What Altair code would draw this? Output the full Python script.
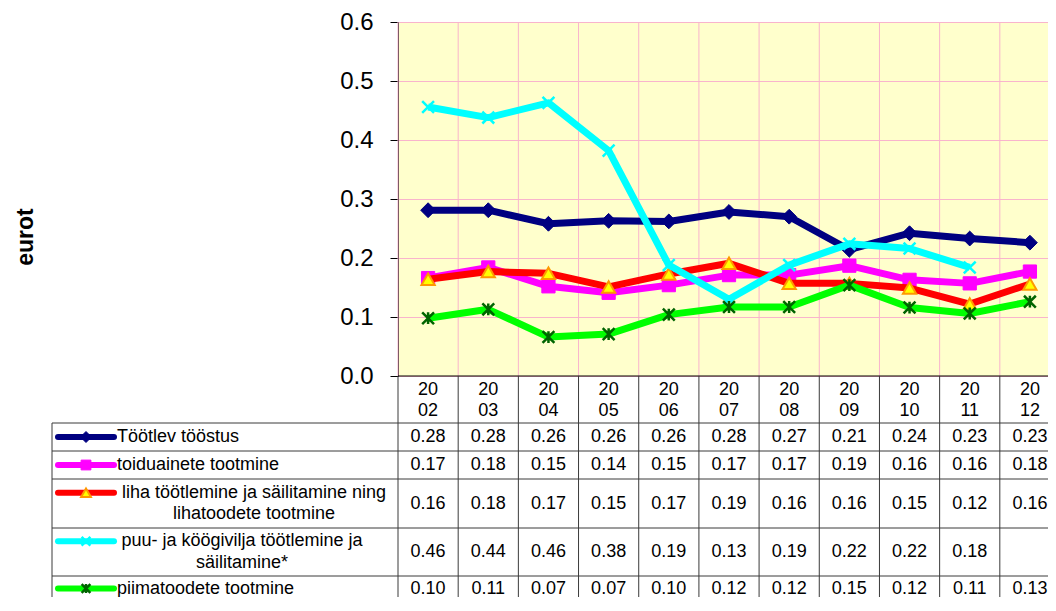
import altair as alt
import pandas as pd

# ---------------- data ----------------
years = ["2002", "2003", "2004", "2005", "2006", "2007", "2008", "2009", "2010", "2011", "2012"]
year_labels = ["20\n02", "20\n03", "20\n04", "20\n05", "20\n06", "20\n07",
               "20\n08", "20\n09", "20\n10", "20\n11", "20\n12"]

series_names = [
    "Töötlev tööstus",
    "toiduainete tootmine",
    "liha töötlemine ja säilitamine ning\nlihatoodete tootmine",
    "puu- ja köögivilja töötlemine ja\nsäilitamine*",
    "piimatoodete tootmine",
]

tootlev = [0.281, 0.281, 0.258, 0.263, 0.262, 0.278, 0.270, 0.214, 0.242, 0.233, 0.226]
toiduained = [0.166, 0.184, 0.152, 0.141, 0.154, 0.171, 0.171, 0.187, 0.163, 0.157, 0.177]
liha = [0.164, 0.177, 0.174, 0.151, 0.173, 0.191, 0.157, 0.157, 0.149, 0.122, 0.156]
puuvili = [0.456, 0.438, 0.463, 0.382, 0.188, 0.130, 0.188, 0.224, 0.216, 0.184, None]
piim = [0.098, 0.113, 0.066, 0.071, 0.104, 0.117, 0.117, 0.154, 0.116, 0.106, 0.126]

series_values = [tootlev, toiduained, liha, puuvili, piim]
y_ticks = [0.0, 0.1, 0.2, 0.3, 0.4, 0.5, 0.6]

# ---------------- styles / layout ----------------
FONT = "Liberation Sans, Arial, sans-serif"
PINK = "#F9B4CC"
PLOT_BG = "#FFFFCC"
TABLE_LINE = "#3a3a3a"
W, H = 650, 354          # visible plot area (right part is cut by the page edge)
X_RANGE = 662            # full extent of the 11 year columns

COLORS = ["#000080", "#FF00FF", "#FF0000", "#00FFFF", "#00FF00"]
X_PATH = "M-1,-1L1,1M-1,1L1,-1"
STAR_PATH = "M-1,-1L1,1M-1,1L1,-1M0,-1L0,1"
MARKERS = [
    dict(shape="diamond", size=220, filled=True, fill="#000080", stroke="#000080", strokeWidth=1),
    dict(shape="square", size=175, filled=True, fill="#FF00FF", stroke="#FF00FF", strokeWidth=1),
    dict(shape="triangle-up", size=175, filled=True, fill="#FFFF00", stroke="#FF9900", strokeWidth=2),
    dict(shape=X_PATH, size=140, filled=False, stroke="#00FFFF", strokeWidth=2.5),
    dict(shape=STAR_PATH, size=140, filled=False, stroke="#006400", strokeWidth=2.5),
]

# table rows (pixels below the plot); multi-line texts are placed by their first line
TABLE_H = 231
HEADER_Y = 13.5
ROW_EDGES = [47, 75, 103, 152, 200]
ROW_CENTER = [61, 89, 127.5, 176, 212.5]
KEY_Y = [61, 89, 116.75, 165.25, 212.5]
LABEL_X = [-281, -281, -144, -156, -281]
LABEL_ALIGN = ["left", "left", "center", "center", "left"]
TABLE_LEFT = -346

xs = alt.Scale(type="band", domain=years, range=[0, X_RANGE], paddingInner=0, paddingOuter=0)
ys_table = alt.Scale(domain=[0, TABLE_H], range=[H, H + TABLE_H], nice=False, zero=False)

x_center = alt.X("year:N", scale=xs, axis=None, bandPosition=0.5)
x_start = alt.X("year:N", scale=xs, axis=None, bandPosition=0)

# ---------------- plot part ----------------
y_top = alt.Y(
    "value:Q",
    scale=alt.Scale(domain=[0, 0.6], nice=False, zero=True),
    axis=alt.Axis(values=y_ticks, format=".1f", labelFont=FONT, labelFontSize=24,
                  labelColor="black", labelPadding=17, tickSize=8, tickColor="black",
                  domainColor="black", grid=True, gridColor=PINK, gridWidth=1,
                  title="eurot", titleFont=FONT, titleFontSize=23, titleFontWeight="bold",
                  titleColor="black", titleX=-366, titleY=214.5, titleBaseline="alphabetic",
                  titleAngle=270),
)

df_years = pd.DataFrame({"year": years, "label": year_labels})

vgrid = alt.Chart(df_years).mark_rule(color=PINK, strokeWidth=1).encode(
    x=x_start, y=alt.value(0), y2=alt.value(H)
)

plot_layers = [vgrid]
for name, vals, color, mk in zip(series_names, series_values, COLORS, MARKERS):
    df = pd.DataFrame({"year": years, "value": vals}).dropna()
    plot_layers.append(
        alt.Chart(df).mark_line(color=color, strokeWidth=7, strokeJoin="round").encode(x=x_center, y=y_top)
    )
    plot_layers.append(
        alt.Chart(df).mark_point(opacity=1, **mk).encode(x=x_center, y=y_top)
    )
plot_group = alt.layer(*plot_layers)

# ---------------- table part ----------------
rows = []
for i, vals in enumerate(series_values):
    for yr, v in zip(years, vals):
        if v is not None:
            rows.append({"year": yr, "value": v, "row_y": ROW_CENTER[i]})
df_tab = pd.DataFrame(rows)

axis_line = alt.Chart(pd.DataFrame({"edge": [0]})).mark_rule(color="black", strokeWidth=1).encode(
    y=alt.Y("edge:Q", scale=ys_table, axis=None), x=alt.value(0), x2=alt.value(X_RANGE)
)
hrules = alt.Chart(pd.DataFrame({"edge": ROW_EDGES})).mark_rule(color=TABLE_LINE, strokeWidth=1).encode(
    y=alt.Y("edge:Q", scale=ys_table, axis=None), x=alt.value(TABLE_LEFT), x2=alt.value(X_RANGE)
)
vrules = alt.Chart(df_years.assign(y0=0, y1=TABLE_H)).mark_rule(color=TABLE_LINE, strokeWidth=1).encode(
    x=x_start, y=alt.Y("y0:Q", scale=ys_table, axis=None), y2="y1:Q"
)
left_border = alt.Chart(pd.DataFrame({"y0": [ROW_EDGES[0]], "y1": [TABLE_H]})).mark_rule(
    color=TABLE_LINE, strokeWidth=1
).encode(x=alt.value(TABLE_LEFT), y=alt.Y("y0:Q", scale=ys_table, axis=None), y2="y1:Q")

header = alt.Chart(df_years.assign(row_y=HEADER_Y)).mark_text(
    font=FONT, fontSize=18, color="black", lineBreak="\n", lineHeight=21,
    baseline="middle", align="center"
).encode(x=x_center, y=alt.Y("row_y:Q", scale=ys_table, axis=None), text="label:N")

values_layer = alt.Chart(df_tab).mark_text(
    font=FONT, fontSize=18, color="black", baseline="middle", align="center"
).encode(
    x=x_center,
    y=alt.Y("row_y:Q", scale=ys_table, axis=None),
    text=alt.Text("value:Q", format=".2f"),
)

table_layers = [axis_line, hrules, vrules, left_border, header, values_layer]
for i, (name, color, mk) in enumerate(zip(series_names, COLORS, MARKERS)):
    d = pd.DataFrame({"name": [name], "key_y": [KEY_Y[i]]})
    table_layers.append(
        alt.Chart(d).mark_rule(color=color, strokeWidth=6, strokeCap="round").encode(
            x=alt.value(-340), x2=alt.value(-284), y=alt.Y("key_y:Q", scale=ys_table, axis=None)
        )
    )
    mk_small = dict(mk)
    mk_small["size"] = mk["size"] * 0.55
    table_layers.append(
        alt.Chart(d).mark_point(opacity=1, **mk_small).encode(
            x=alt.value(-312), y=alt.Y("key_y:Q", scale=ys_table, axis=None)
        )
    )
    table_layers.append(
        alt.Chart(d).mark_text(
            font=FONT, fontSize=18, color="black", lineBreak="\n", lineHeight=21.5,
            baseline="middle", align=LABEL_ALIGN[i]
        ).encode(
            x=alt.value(LABEL_X[i]), y=alt.Y("key_y:Q", scale=ys_table, axis=None), text="name:N"
        )
    )
table_group = alt.layer(*table_layers)

chart = alt.layer(plot_group, table_group).resolve_scale(y="independent").properties(
    width=W,
    height=H,
    view=alt.ViewBackground(fill=PLOT_BG, stroke=None),
    autosize=alt.AutoSizeParams(type="none"),
    padding={"left": 390, "top": 14, "right": 0, "bottom": 221},
).configure(font=FONT).configure_view(stroke=None)

chart.save("out.html", embed_options={"renderer": "svg", "actions": False})
